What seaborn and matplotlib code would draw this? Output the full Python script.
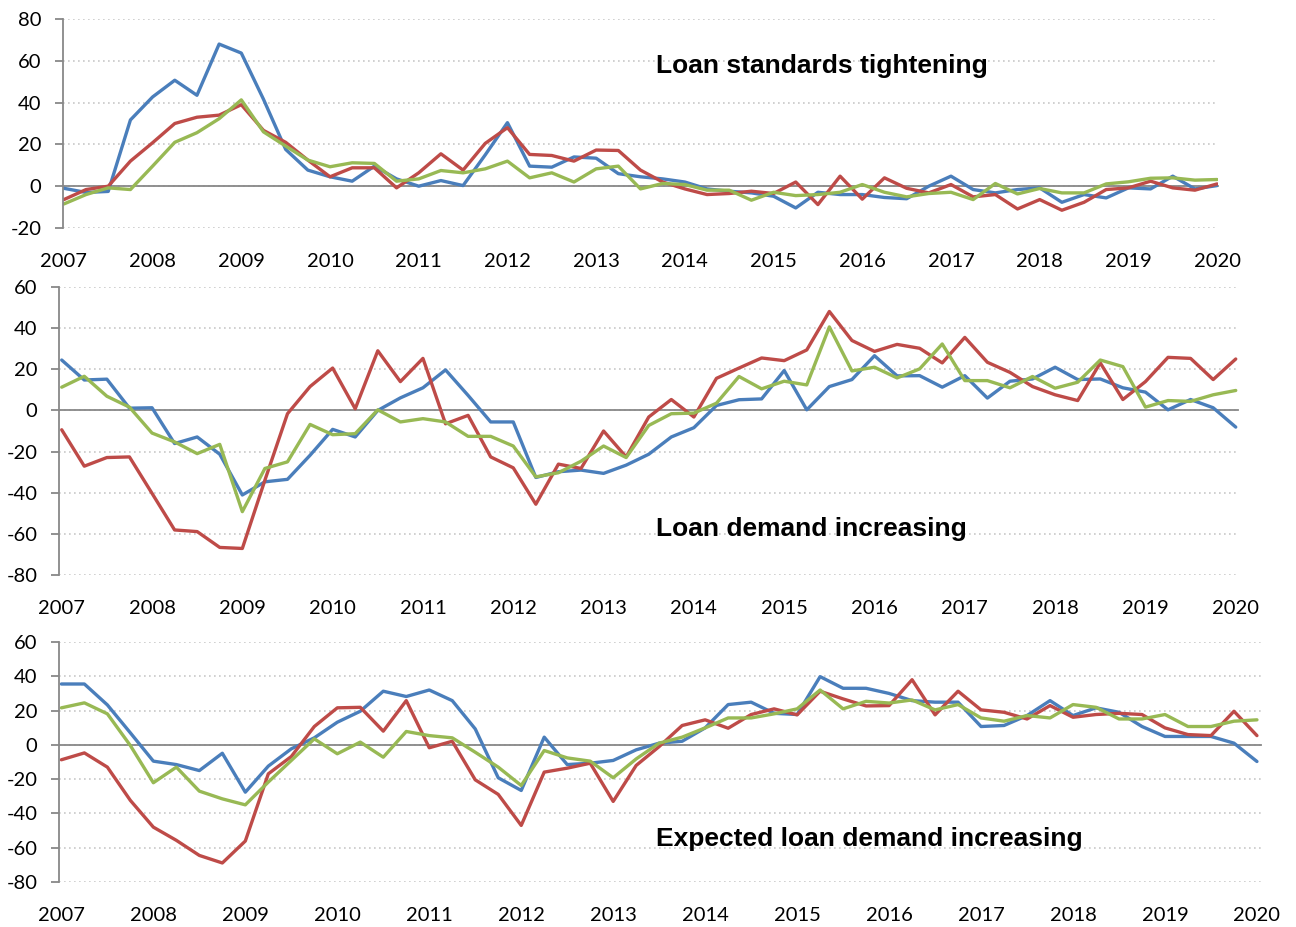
import numpy as np
import pandas as pd
import matplotlib.pyplot as plt
import seaborn as sns

# quarterly survey balances, 2007Q1 .. 2020Q1
quarters = pd.period_range("2007Q1", "2020Q1", freq="Q")
years = list(range(2007, 2021))

# Loan standards tightening
tight_blue = [-1, -3, -2.5, 31.7, 42.7, 50.7, 43.5, 68, 63.7, 41.6,
              17.6, 7.7, 4.5, 2.4, 9.6, 3.5, 0, 2.7, 0.3, 15,
              30.4, 9.6, 9.1, 14, 13.4, 6, 4.5, 3.5, 2, -1.3,
              -2.4, -3.2, -4.8, -10.4, -2.9, -4, -4, -5.4, -6, 0,
              4.8, -1.6, -3.2, -1.6, -0.8, -7.7, -4, -5.6, -0.8, -1.3,
              4.8, -1.3, 0.3]
tight_red = [-6.4, -1.6, 0, 12, 20.8, 30, 33, 34, 39, 26.7,
             21, 12.5, 4.5, 8.8, 8.8, -0.8, 6.4, 15.5, 7.7, 20.5,
             28, 15.2, 14.7, 12, 17.3, 17.1, 7.7, 2, -1.3, -4,
             -3.5, -2.4, -3.5, 2, -8.8, 4.8, -6.2, 4, -1, -3.2,
             0.8, -5.1, -4, -10.9, -6.4, -11.5, -7.7, -1.6, -0.8, 2.4,
             -0.8, -1.9, 1.1]
tight_green = [-8.5, -4, -0.8, -1.6, 9.6, 21, 25.6, 32.3, 41.3, 26,
               19.2, 12.5, 9.3, 11.2, 10.9, 2.4, 3.5, 7.5, 6.4, 8.3,
               12, 4, 6.4, 2, 8.3, 9.6, -1.3, 1.3, 0.8, -1.9,
               -1.9, -6.7, -2.9, -4.5, -4, -2.9, 0.8, -2.9, -5.1, -3.5,
               -2.9, -6.4, 1.3, -3.7, -1.1, -3.2, -3.2, 1.1, 2.1, 3.8,
               4, 2.9, 3.2]

# Loan demand increasing
demand_blue = [24.5, 14.8, 15.2, 1.1, 1.3, -16.1, -12.9, -21.3, -41.1, -34.7,
               -33.5, -21.8, -9.2, -12.9, 0, 6.1, 11, 19.7, 7.3, -5.6,
               -5.6, -32.6, -29.8, -29, -30.6, -26.6, -21.3, -12.9, -8.4, 2.4,
               5.2, 5.6, 19.4, 0.3, 11.6, 15, 26.6, 16.8, 16.9, 11.3,
               16.9, 6, 14.2, 15.3, 21, 15, 15.3, 11, 8.9, 0.3,
               5.3, 1.3, -8.1]
demand_red = [-9.4, -27.1, -22.9, -22.6, -40.3, -58.1, -58.9, -66.6, -67.1, -33.9,
              -1.6, 11.6, 20.6, 0.8, 29, 14, 25.3, -6.5, -2.4, -22.6,
              -27.9, -45.6, -26.1, -28.2, -10, -22.6, -3.2, 5.3, -3.2, 15.6,
              20.6, 25.5, 24.2, 29.4, 48.1, 34, 28.7, 32.1, 30.2, 23.1,
              35.5, 23.4, 18.5, 11.6, 7.6, 4.8, 23.1, 5.3, 14, 25.8,
              25.3, 15, 25]
demand_green = [11.3, 16.6, 6.9, 1.6, -11, -15.3, -21, -16.5, -49.2, -28.2,
                -25, -6.8, -11.8, -11.3, 0.3, -5.6, -4, -5.6, -12.6, -12.6,
                -17.3, -32.3, -30.3, -24.7, -17.3, -22.9, -7.3, -1.6, -1.3, 3.5,
                16.5, 10.5, 14.2, 12.4, 40.6, 19.2, 21, 15.8, 20.2, 32.3,
                14.5, 14.5, 11, 16.5, 10.8, 13.7, 24.5, 21.3, 1.6, 4.8,
                4.4, 7.6, 9.7]

# Expected loan demand increasing
expected_blue = [35.5, 35.5, 23.3, 7, -9.5, -11.5, -15, -4.9, -27.6, -12.4,
                 -2.3, 4.1, 13.2, 19.6, 31.3, 28.2, 32, 25.8, 9.3, -19.2,
                 -26.6, 4.5, -11.5, -10.7, -9.1, -2.9, 1, 2.1, 9.9, 23.5,
                 24.9, 18.4, 17.7, 39.8, 33, 33, 30, 25.8, 24.9, 24.9,
                 10.7, 11.3, 17.1, 25.8, 17.1, 21.6, 19, 10.7, 4.9, 4.9,
                 4.9, 1, -9.7]
expected_red = [-8.7, -4.7, -13, -32.4, -48, -55.7, -64.5, -68.9, -56.1, -16.9,
                -6.8, 10.7, 21.6, 21.9, 8, 25.8, -1.7, 2.1, -20.4, -28.9,
                -47, -15.9, -13.6, -10.7, -33, -12, -1, 11.3, 14.6, 9.7,
                17.7, 21, 17.5, 31.3, 26.8, 22.7, 22.9, 38, 17.5, 31.3,
                20.4, 19, 15.1, 22.9, 16.1, 17.7, 18.4, 17.7, 9.9, 6,
                5.4, 19.6, 5.4]
expected_green = [21.6, 24.5, 18.1, -0.4, -22.1, -13, -27, -31.5, -35, -21.7,
                  -9.1, 3.5, -5.2, 1.6, -7.2, 7.8, 5.4, 4.1, -4.3, -13,
                  -23.7, -3.3, -7.6, -9.5, -19.2, -8.2, 1, 4.5, 9.9, 15.7,
                  15.7, 18.1, 21, 32, 21, 25.4, 24.4, 26.2, 20.4, 23.5,
                  15.7, 13.8, 17.1, 15.7, 23.5, 21.9, 15.1, 15.1, 17.7, 10.7,
                  10.7, 13.8, 14.6]

palette = {"blue": "#4A7EBB", "red": "#BE4B48", "green": "#98B954"}

sns.set_style("white")
plt.rcParams["font.family"] = ["Lato", "DejaVu Sans"]
plt.rcParams["axes.unicode_minus"] = False
plt.rcParams["text.color"] = "black"
plt.rcParams["xtick.labelcolor"] = "black"
plt.rcParams["ytick.labelcolor"] = "black"

W, H = 1296, 927
fig = plt.figure(figsize=(W / 100, H / 100), dpi=100)


def long_frame(blue, red, green):
    x = np.asarray(quarters.year + (quarters.quarter - 1) / 4, dtype=float)
    n = len(x)
    return pd.DataFrame({
        "x": np.tile(x, 3),
        "value": blue + red + green,
        "series": ["blue"] * n + ["red"] * n + ["green"] * n,
    })


def draw_panel(box, df, ylim, yticks, xlim, title, title_base):
    left, top, right, bottom = box
    ax = fig.add_axes([left / W, 1 - bottom / H, (right - left) / W, (bottom - top) / H])
    sns.lineplot(data=df, x="x", y="value", hue="series", palette=palette,
                 legend=False, linewidth=2.4, ax=ax, sort=True)
    ax.set_xlim(*xlim)
    ax.set_ylim(*ylim)
    ax.set_yticks(yticks)
    ax.set_xticks(years)
    ax.set_xlabel("")
    ax.set_ylabel("")
    ax.grid(axis="y", linestyle=(0, (1, 2)), color="#C8C8C8", linewidth=1.2)
    ax.grid(axis="x", visible=False)
    for s in ["top", "right"]:
        ax.spines[s].set_visible(False)
    ax.spines["left"].set_color("#888888")
    ax.spines["left"].set_linewidth(1.3)
    ax.spines["bottom"].set_position(("data", 0))
    ax.spines["bottom"].set_color("#888888")
    ax.spines["bottom"].set_linewidth(1.3)
    ax.spines["bottom"].set_zorder(1)
    ax.tick_params(axis="x", direction="out", length=5.5, width=1.3,
                   color="#888888", labelbottom=False)
    ax.tick_params(axis="y", direction="out", length=5.5, width=1.3,
                   color="#888888", labelcolor="black", labelsize=14.5, pad=10, left=True)
    # year labels below the plot area
    sec = ax.secondary_xaxis("bottom")
    sec.set_xticks(years)
    sec.set_xticklabels([str(y) for y in years])
    sec.spines["bottom"].set_visible(False)
    sec.tick_params(length=0, labelsize=14.5, labelcolor="black", pad=18)
    fig.text(656 / W, 1 - title_base / H, title, fontsize=19, fontweight="bold",
             fontfamily="Liberation Sans", color="black", ha="left", va="baseline")
    return ax


draw_panel((63, 19, 1218, 228), long_frame(tight_blue, tight_red, tight_green),
           (-20, 80), range(-20, 81, 20), (2006.99, 2020.01),
           "Loan standards tightening", 73)
draw_panel((59, 287, 1238, 575), long_frame(demand_blue, demand_red, demand_green),
           (-80, 60), range(-80, 61, 20), (2006.97, 2020.025),
           "Loan demand increasing", 536)
draw_panel((59, 642, 1261, 882), long_frame(expected_blue, expected_red, expected_green),
           (-80, 60), range(-80, 61, 20), (2006.974, 2020.044),
           "Expected loan demand increasing", 846)

fig.savefig("out.png", dpi=100)
